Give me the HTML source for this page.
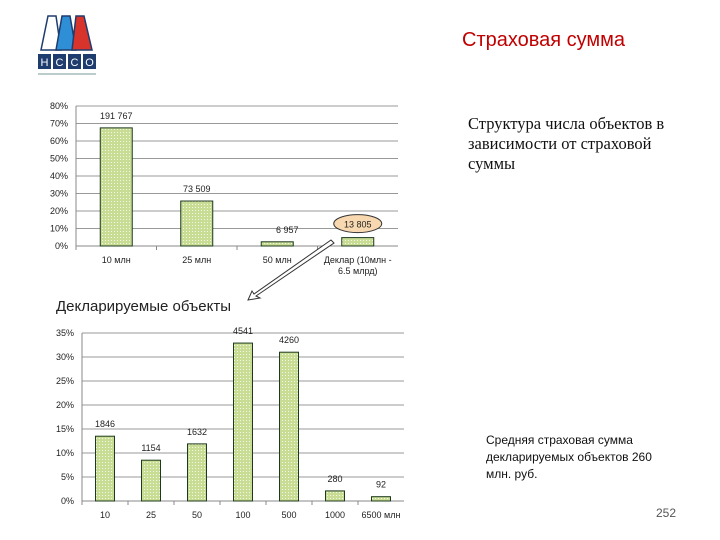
<!DOCTYPE html>
<html><head><meta charset="utf-8"><style>
body{margin:0;width:720px;height:540px;background:#fff;overflow:hidden;position:relative;font-family:"Liberation Sans",sans-serif}
.abs{position:absolute}
</style></head><body>
<div class="abs" style="left:36px;top:14px;width:62px;height:66px">
<svg width="62" height="66" viewBox="0 0 62 66">
<polygon points="12,2 20,2 25,36 5,36" fill="#fff" stroke="#1f3c6e" stroke-width="1.5"/>
<polygon points="26,2 34,2 40,36 20,36" fill="#2e8fd6" stroke="#1f3c6e" stroke-width="1.5"/>
<polygon points="40,2 48,2 56,36 36,36" fill="#d9342b" stroke="#1f3c6e" stroke-width="1.5"/>
<rect x="2" y="40" width="13" height="15" fill="#1f3c6e"/><rect x="17" y="40" width="13" height="15" fill="#1f3c6e"/>
<rect x="32" y="40" width="13" height="15" fill="#1f3c6e"/><rect x="47" y="40" width="13" height="15" fill="#1f3c6e"/>
<text x="8.5" y="52" font-size="11" fill="#fff" text-anchor="middle" font-family="Liberation Sans">Н</text>
<text x="23.5" y="52" font-size="11" fill="#fff" text-anchor="middle" font-family="Liberation Sans">С</text>
<text x="38.5" y="52" font-size="11" fill="#fff" text-anchor="middle" font-family="Liberation Sans">С</text>
<text x="53.5" y="52" font-size="11" fill="#fff" text-anchor="middle" font-family="Liberation Sans">О</text>
<rect x="2" y="59" width="58" height="2" fill="#bcc"/>
</svg></div>
<div class="abs" style="left:462px;top:29px;font-size:20px;color:#c00000">Страховая сумма</div>
<div class="abs" style="left:468px;top:114px;width:225px;font-family:'Liberation Serif',serif;font-size:16.5px;line-height:20px;color:#111">Структура числа объектов в зависимости от страховой суммы</div>
<div class="abs" style="left:56px;top:298px;font-size:15px;color:#222">Декларируемые объекты</div>
<div class="abs" style="left:486px;top:432px;width:182px;font-size:12px;line-height:17px;color:#111">Средняя страховая сумма декларируемых объектов 260 млн. руб.</div>
<div class="abs" style="left:656px;top:506px;font-size:12px;color:#555">252</div>
<svg id="c" class="abs" style="left:0;top:0" width="720" height="540">
<defs><pattern id="dots" width="3" height="3" patternUnits="userSpaceOnUse"><rect width="3" height="3" fill="#c8dc94"/><rect width="1" height="1" fill="#f4f8e6"/></pattern></defs>
</svg>
<script>
const cats1=["10 млн","25 млн","50 млн","Деклар (10млн -|6.5 млрд)"];
const vals1=[67.5,25.7,2.4,4.8];
const labels1=["191 767","73 509","6 957","13 805"];
const ticks1=[0,10,20,30,40,50,60,70,80];
const cats2=["10","25","50","100","500","1000","6500 млн"];
const vals2=[13.5,8.5,11.9,32.9,31.0,2.1,0.9];
const labels2=["1846","1154","1632","4541","4260","280","92"];
const ticks2=[0,5,10,15,20,25,30,35];
const svg=document.getElementById('c');const NS="http://www.w3.org/2000/svg";
function mk(t,a,txt){const e=document.createElementNS(NS,t);for(const k in a)e.setAttribute(k,a[k]);if(txt!=null)e.textContent=txt;svg.appendChild(e);return e;}
function chart(o){
 const y=v=>o.y0-(v/o.max)*(o.y0-o.yTop);
 const cw=(o.x1-o.x0)/o.cats.length;
 o.ticks.forEach(t=>{
  const l=mk('line',{x1:o.x0,x2:o.x1,y1:y(t),y2:y(t),stroke:t?'#999':'#888','stroke-width':1});
  
  const tx=mk('text',{x:o.x0-8,y:y(t)+3,'font-size':9,'text-anchor':'end',fill:'#222'},t+'%');
  
 });
 mk('line',{x1:o.x0,x2:o.x0,y1:o.yTop,y2:o.y0,stroke:'#888'});
 o.cats.forEach((c,i)=>{
  const cx=o.x0+cw*(i+0.5),v=o.vals[i];
  const r=mk('rect',{x:cx-o.bw/2,y:y(v),width:o.bw,height:o.y0-y(v),fill:'url(#dots)',stroke:'#1e3a1e','stroke-width':1});
  
  if(o.hl===i){const el=mk('ellipse',{cx:cx,cy:y(v)-14,rx:24,ry:9,fill:'#f8d8b0',stroke:'#333'});}
  const lb=mk('text',{x:cx+(o.lo?o.lo[i]:0),y:y(v)-(o.hl===i?10:9),'font-size':9,'text-anchor':'middle',fill:'#222'},o.labels[i]);
  
  c.split('|').forEach((p,j)=>{const t=mk('text',{x:cx,y:o.y0+17+j*11,'font-size':9,'text-anchor':'middle',fill:'#222'},p);
   });
  mk('line',{x1:o.x0+cw*i,x2:o.x0+cw*i,y1:o.y0,y2:o.y0+4,stroke:'#888'});
 });
}
chart({cats:cats1,vals:vals1,labels:labels1,ticks:ticks1,max:80,x0:76,x1:398,y0:246,yTop:106,bw:32,hl:3,lo:[0,0,10,0]});
chart({cats:cats2,vals:vals2,labels:labels2,ticks:ticks2,max:35,x0:82,x1:404,y0:501,yTop:333,bw:19,lo:[0,0,0,0,0,0,0]});
const ar=mk('polygon',{points:"331,240 334,243 256,296 260,298 248,300 252,291 254,294",fill:'#fff',stroke:'#333'});

</script>
</body></html>
